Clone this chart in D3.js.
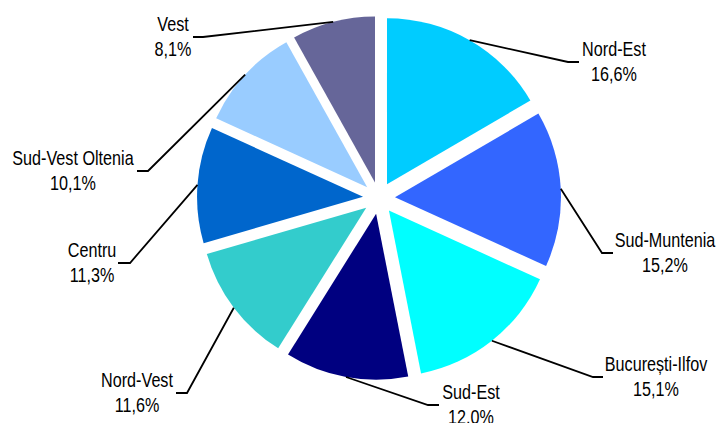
<!DOCTYPE html>
<html>
<head>
<meta charset="utf-8">
<script src="https://cdn.jsdelivr.net/npm/d3@7"></script>
<style>
  html, body { margin: 0; padding: 0; background: #fff; }
  svg { display: block; }
  text { font-family: "Liberation Sans", Arial, sans-serif; font-size: 19.5px; fill: #000; }
</style>
</head>
<body>
<svg id="chart" width="720" height="423"></svg>
<script>
// ---- data ----
const regions = ["Nord-Est", "Sud-Muntenia", "București-Ilfov", "Sud-Est", "Nord-Vest", "Centru", "Sud-Vest Oltenia", "Vest"];
const shares = [16.6, 15.2, 15.1, 12.0, 11.6, 11.3, 10.1, 8.1];
const percentLabels = ["16,6%", "15,2%", "15,1%", "12,0%", "11,6%", "11,3%", "10,1%", "8,1%"];
const colors = ["#00CCFF", "#3366FF", "#00FFFF", "#000080", "#33CCCC", "#0066CC", "#99CCFF", "#666699"];

// ---- layout (label placement, in px) ----
const labelElbow = [[568,62],[602,253],[593,377],[428,405],[187,393],[130,263],[148,171],[203,37]];
const labelStubEnd = [579, 613, 603, 439, 176, 118, 137, 193];
const labelCenterX = [614, 665, 656, 471, 137, 92, 73, 173];

const cx = 379, cy = 198, radius = 166, explode = 16;
const textScaleX = 0.83;

const svg = d3.select("#chart");
const pie = d3.pie().sort(null).value(d => d.v).startAngle(0).endAngle(2 * Math.PI);
const arc = d3.arc().innerRadius(0).outerRadius(radius);

const data = regions.map((r, i) => ({ name: r, v: shares[i], pct: percentLabels[i], color: colors[i], i }));
const arcs = pie(data);

const g = svg.append("g").attr("transform", `translate(${cx},${cy})`);

arcs.forEach(a => {
  const mid = (a.startAngle + a.endAngle) / 2;
  a.mid = mid;
  a.ox = Math.sin(mid) * explode;
  a.oy = -Math.cos(mid) * explode;
});

g.selectAll("path.slice")
  .data(arcs)
  .join("path")
  .attr("class", "slice")
  .attr("d", arc)
  .attr("fill", d => d.data.color)
  .attr("transform", d => `translate(${d.ox},${d.oy})`);

// leader lines
const lineGen = d3.line();
arcs.forEach(a => {
  const i = a.data.i;
  const sx = cx + a.ox + Math.sin(a.mid) * radius;
  const sy = cy + a.oy - Math.cos(a.mid) * radius;
  const e = labelElbow[i];
  const pts = [[sx, sy], e, [labelStubEnd[i], e[1]]];
  svg.append("path")
    .attr("d", lineGen(pts))
    .attr("fill", "none")
    .attr("stroke", "#000")
    .attr("stroke-width", 1.8);

  const lg = svg.append("g")
    .attr("transform", `translate(${labelCenterX[i]},0) scale(${textScaleX},1)`);
  lg.append("text")
    .attr("text-anchor", "middle")
    .attr("x", 0)
    .attr("y", e[1] - 6)
    .text(a.data.name);
  lg.append("text")
    .attr("text-anchor", "middle")
    .attr("x", 0)
    .attr("y", e[1] + 19.5)
    .text(a.data.pct);
});
</script>
</body>
</html>
